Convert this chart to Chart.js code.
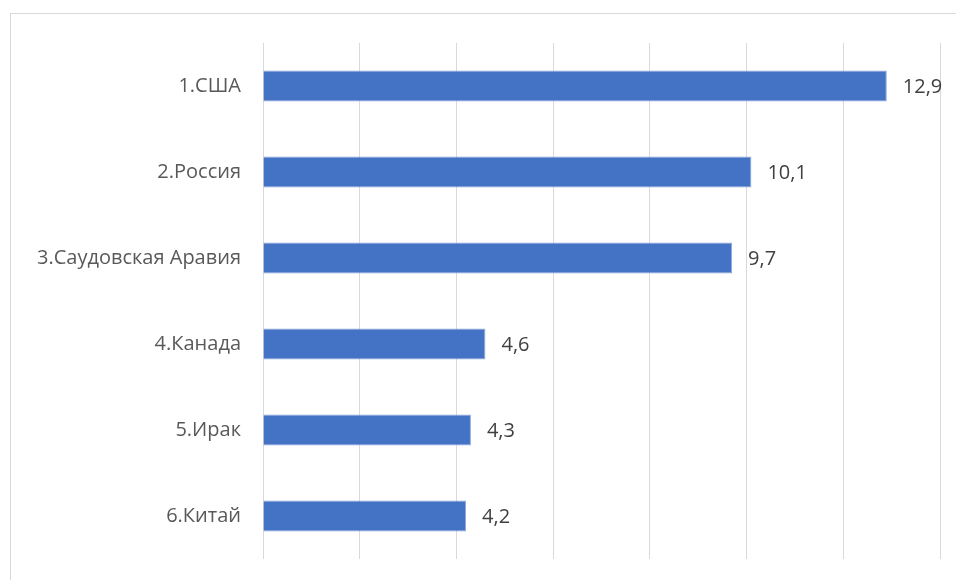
<!DOCTYPE html>
<html>
<head>
<meta charset="utf-8">
<script src="https://cdn.jsdelivr.net/npm/chart.js@4/dist/chart.umd.min.js"></script>
<style>
  html, body { margin: 0; padding: 0; background: #fff; }
  #wrap { position: relative; width: 956px; height: 580px; overflow: hidden; }
  #frame { position: absolute; left: 10px; top: 13px; width: 960px; height: 600px; border: 1px solid #d9d9d9; box-sizing: border-box; }
  #c { position: absolute; left: 0; top: 0; }
</style>
</head>
<body>
<div id="wrap">
  <div id="frame"></div>
  <canvas id="c" width="956" height="580"></canvas>
</div>
<script>
// Крупнейшие производители нефти
const categories = ['1.США', '2.Россия', '3.Саудовская Аравия', '4.Канада', '5.Ирак', '6.Китай'];
const values = [12.9, 10.1, 9.7, 4.6, 4.3, 4.2];
const axisMax = 14;
const axisStep = 2;

const fontFamily = "'Open Sans', 'Noto Sans', sans-serif";

// Подписи значений справа от столбцов (десятичная запятая)
const valueLabels = {
  id: 'valueLabels',
  afterDatasetsDraw(chart) {
    const ctx = chart.ctx;
    const meta = chart.getDatasetMeta(0);
    ctx.save();
    ctx.font = "20px " + fontFamily;
    ctx.fillStyle = '#404040';
    ctx.textAlign = 'left';
    ctx.textBaseline = 'middle';
    meta.data.forEach((bar, i) => {
      const txt = values[i].toFixed(1).replace('.', ',');
      ctx.fillText(txt, bar.x + 16, bar.y + 1);
    });
    ctx.restore();
  }
};

new Chart(document.getElementById('c'), {
  type: 'bar',
  data: {
    labels: categories,
    datasets: [{
      data: values,
      backgroundColor: '#4472C4',
      borderColor: '#8fa9dc',
      borderWidth: 1,
      barPercentage: 0.72,
      categoryPercentage: 0.5
    }]
  },
  options: {
    indexAxis: 'y',
    responsive: false,
    animation: false,
    layout: { padding: { left: 0, right: 16, top: 43, bottom: 21 } },
    plugins: {
      legend: { display: false },
      tooltip: { enabled: false }
    },
    scales: {
      x: {
        min: 0,
        max: axisMax,
        afterFit(scale) { scale.height = 0; },
        ticks: { display: false, stepSize: axisStep },
        grid: { color: '#d9d9d9', lineWidth: 1, drawTicks: false },
        border: { display: false }
      },
      y: {
        afterFit(scale) {
          scale.width = 263;
          scale.paddingTop = 0;
          scale.paddingBottom = 0;
        },
        ticks: {
          color: '#595959',
          padding: 14,
          font: { size: 20, family: fontFamily }
        },
        grid: { display: false },
        border: { display: false }
      }
    }
  },
  plugins: [valueLabels]
});
</script>
</body>
</html>
